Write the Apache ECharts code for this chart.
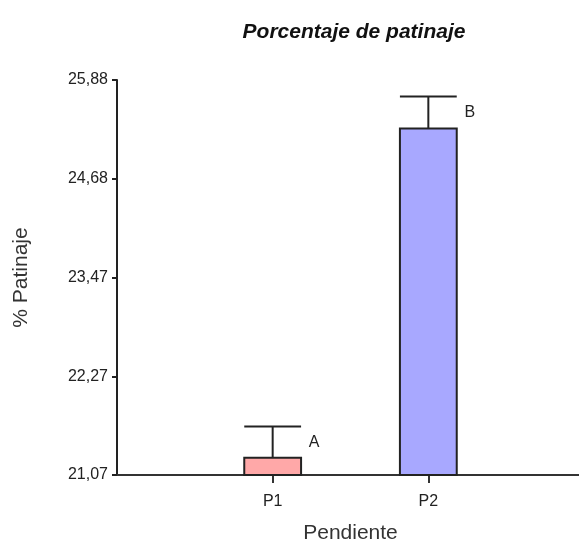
<!DOCTYPE html>
<html>
<head>
<meta charset="utf-8">
<script src="https://cdn.jsdelivr.net/npm/echarts@6/dist/echarts.min.js"></script>
<style>html,body{margin:0;padding:0;background:#fff}#c{width:579px;height:543px}</style>
</head>
<body>
<div id="c"></div>
<script>
const categories = ['P1', 'P2'];
const xPositions = [1, 2];
const means = [21.28, 25.29];
const errorTops = [21.66, 25.68];
const groupLetters = ['A', 'B'];
const yTicks = [21.07, 22.27, 23.47, 24.68, 25.88];
const barColors = ['#FFA8A8', '#A8A8FF'];

const Y_MIN = yTicks[0], Y_MAX = yTicks[yTicks.length - 1];
const FONT = 'Liberation Sans, Arial, sans-serif';

const seriesData = categories.map((c, i) => [xPositions[i], means[i], errorTops[i], i]);

const chart = echarts.init(document.getElementById('c'), null, {renderer: 'canvas'});
chart.setOption({
  animation: false,
  backgroundColor: '#fff',
  title: {
    text: 'Porcentaje de patinaje',
    left: 349, top: 17, textAlign: 'center',
    textStyle: {fontFamily: FONT, fontSize: 21, fontWeight: 'bold', fontStyle: 'italic', color: '#111'}
  },
  grid: {left: 117, top: 80, bottom: 68, width: 467, containLabel: false, outerBoundsMode: 'none'},
  xAxis: {
    type: 'value', min: 0, max: 3,
    name: 'Pendiente', nameLocation: 'middle', nameGap: 48,
    nameTextStyle: {fontFamily: FONT, fontSize: 21, color: '#333'},
    axisLine: {show: true, lineStyle: {color: '#333', width: 2}},
    axisTick: {show: true, customValues: xPositions, length: 8, inside: false, lineStyle: {color: '#333', width: 2}},
    axisLabel: {
      customValues: xPositions, margin: 19,
      fontFamily: FONT, fontSize: 16, color: '#222',
      formatter: v => categories[xPositions.indexOf(v)] || ''
    },
    splitLine: {show: false}
  },
  yAxis: {
    type: 'value', min: Y_MIN, max: Y_MAX,
    name: '% Patinaje', nameLocation: 'middle', nameGap: 85, nameRotate: 90,
    nameTextStyle: {fontFamily: FONT, fontSize: 21, color: '#333'},
    axisLine: {show: true, lineStyle: {color: '#222', width: 2}},
    axisTick: {show: true, customValues: yTicks, length: 5, inside: false, lineStyle: {color: '#222', width: 2}},
    axisLabel: {
      customValues: yTicks, margin: 9,
      fontFamily: FONT, fontSize: 16, color: '#222',
      formatter: v => v.toFixed(2).replace('.', ',')
    },
    splitLine: {show: false}
  },
  series: [{
    type: 'custom',
    data: seriesData,
    clip: false,
    renderItem: function (params, api) {
      const x = api.value(0), m = api.value(1), e = api.value(2), idx = api.value(3);
      const halfW = api.size([0.365, 0])[0] / 2;
      const top = api.coord([x, m]);
      const base = api.coord([x, Y_MIN]);
      const cap = api.coord([x, e]);
      return {
        type: 'group',
        children: [
          {type: 'rect', shape: {x: top[0] - halfW, y: top[1], width: halfW * 2, height: base[1] - top[1]},
           style: {fill: barColors[idx], stroke: '#222', lineWidth: 2}},
          {type: 'line', shape: {x1: top[0], y1: top[1], x2: cap[0], y2: cap[1]},
           style: {stroke: '#222', lineWidth: 2}},
          {type: 'line', shape: {x1: cap[0] - halfW, y1: cap[1], x2: cap[0] + halfW, y2: cap[1]},
           style: {stroke: '#222', lineWidth: 2}},
          {type: 'text', x: cap[0] + halfW + 13, y: cap[1] + 16,
           style: {text: groupLetters[idx], fill: '#222', fontFamily: FONT, fontSize: 16, align: 'center', verticalAlign: 'middle'}}
        ]
      };
    }
  }]
});
</script>
</body>
</html>
